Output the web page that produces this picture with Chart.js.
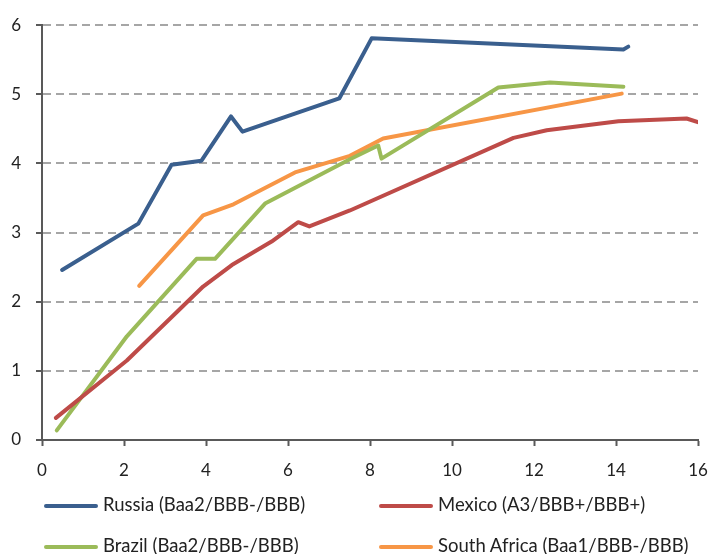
<!DOCTYPE html>
<html>
<head>
<meta charset="utf-8">
<script src="https://cdn.jsdelivr.net/npm/chart.js@4"></script>
<style>
  body { margin: 0; background: #fff; overflow: hidden; }
  #wrap { position: relative; width: 710px; height: 554px; }
  canvas { display: block; }
  .leg { position: absolute; font-family: Lato, sans-serif; font-size: 18.5px; line-height: 22px; color: #222; white-space: nowrap; }
  .leg span.ln { display: inline-block; width: 54px; height: 4px; vertical-align: middle; margin-right: 5px; border-radius: 2px; }
</style>
</head>
<body>
<div id="wrap">
  <canvas id="canvas" width="710" height="554"></canvas>
  <div id="legend"></div>
</div>
<script>
// yield curves: x = tenor (years), y = yield (%)
let names = ['Russia (Baa2/BBB-/BBB)', 'Mexico (A3/BBB+/BBB+)', 'Brazil (Baa2/BBB-/BBB)', 'South Africa (Baa1/BBB-/BBB)'];
let colors = ['#3A5F8E', '#BE4B48', '#9BBB59', '#F79646'];

let russiaX = [0.49, 2.35, 3.16, 3.89, 4.61, 4.89, 7.25, 8.04, 14.18, 14.3];
let russiaY = [2.46, 3.13, 3.98, 4.04, 4.68, 4.46, 4.94, 5.81, 5.65, 5.69];

let mexicoX = [0.34, 2.07, 3.93, 4.63, 5.6, 6.25, 6.52, 7.51, 11.5, 12.31, 14.06, 15.72, 16.05];
let mexicoY = [0.32, 1.15, 2.22, 2.53, 2.87, 3.15, 3.09, 3.32, 4.37, 4.48, 4.61, 4.65, 4.59];

let brazilX = [0.36, 2.07, 3.77, 4.22, 5.44, 7.51, 8.2, 8.28, 11.13, 12.39, 14.18];
let brazilY = [0.14, 1.5, 2.62, 2.62, 3.42, 4.06, 4.26, 4.07, 5.1, 5.17, 5.11];

let safricaX = [2.37, 3.93, 4.67, 6.17, 7.51, 8.32, 14.14];
let safricaY = [2.23, 3.25, 3.41, 3.87, 4.11, 4.36, 5.01];

function pts(xs, ys) {
    let out = [];
    for (let i = 0; i < xs.length; i++) {
        out.push({x: xs[i], y: ys[i]});
    }
    return out;
}

let series = [pts(russiaX, russiaY), pts(mexicoX, mexicoY), pts(brazilX, brazilY), pts(safricaX, safricaY)];
let datasets = [];
for (let i = 0; i < series.length; i++) {
    datasets.push({
        label: names[i],
        data: series[i],
        borderColor: colors[i],
        backgroundColor: colors[i],
        borderWidth: 4,
        pointRadius: 0,
        tension: 0,
        borderCapStyle: 'round',
        borderJoinStyle: 'round'
    });
}

let axisColor = '#595959';
let tickFont = {family: 'Lato, sans-serif', size: 17};

let options = {
    type: 'line',
    data: {datasets: datasets},
    options: {
        responsive: false,
        animation: false,
        layout: {padding: {left: 0, right: 12, top: 21, bottom: 74}},
        plugins: {legend: {display: false}, tooltip: {enabled: false}},
        scales: {
            x: {
                type: 'linear',
                min: 0, max: 16,
                ticks: {stepSize: 2, color: '#222', font: tickFont, padding: 14, maxRotation: 0},
                grid: {drawOnChartArea: false, tickLength: 6, tickColor: axisColor, tickWidth: 2},
                border: {color: axisColor, width: 2},
                afterFit: function(scale) {
                    scale.height = 40;
                    scale.paddingLeft = 0;
                    scale.paddingRight = 0;
                }
            },
            y: {
                min: 0, max: 6,
                ticks: {stepSize: 1, color: '#222', font: tickFont, padding: 15},
                grid: {color: '#A6A6A6', lineWidth: 2, borderDash: [8, 5], tickLength: 6, tickColor: axisColor, tickWidth: 2, tickBorderDash: []},
                border: {color: axisColor, width: 2, dash: [8, 5]},
                afterFit: function(scale) { scale.width = 42; }
            }
        }
    }
};

let chart = new Chart(document.getElementById('canvas'), options);

// legend in two columns below the plot
let legPos = [[44, 493], [379, 493], [44, 534], [379, 534]];
let legend = document.getElementById('legend');
for (let i = 0; i < names.length; i++) {
    let d = document.createElement('div');
    d.className = 'leg';
    d.style.left = legPos[i][0] + 'px';
    d.style.top = legPos[i][1] + 'px';
    d.innerHTML = '<span class="ln" style="background:' + colors[i] + '"></span>' + names[i];
    legend.appendChild(d);
}
</script>
</body>
</html>
